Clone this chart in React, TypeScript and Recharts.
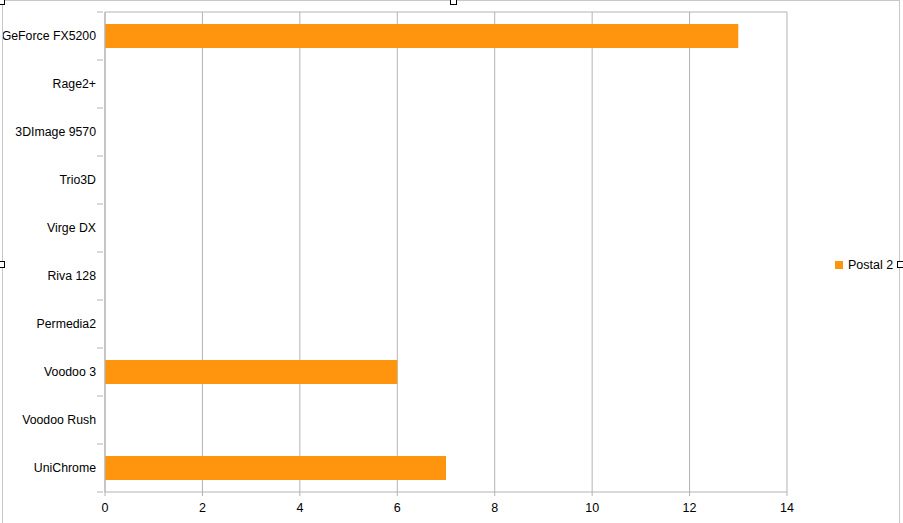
import React from "react";
import { BarChart, Bar, XAxis, YAxis, CartesianGrid } from "recharts";

// Graphics cards and their "Postal 2" results
const cards = [
  "GeForce FX5200",
  "Rage2+",
  "3DImage 9570",
  "Trio3D",
  "Virge DX",
  "Riva 128",
  "Permedia2",
  "Voodoo 3",
  "Voodoo Rush",
  "UniChrome",
];
const postal2 = [13, 0, 0, 0, 0, 0, 0, 6, 0, 7];
const xTicks = [0, 2, 4, 6, 8, 10, 12, 14];

const seriesName = "Postal 2";
const data = cards.map((name, i) => ({ name, value: postal2[i] }));

const FONT = "'Liberation Sans', Arial, sans-serif";
const GRID = "#b3b3b3";
const ORANGE = "#ff950e";

const CategoryTick = (props: any) => {
  const { x, y, payload, index } = props;
  const half = 24;
  return (
    <g>
      <line x1={x} x2={x + 6} y1={y - half} y2={y - half} stroke={GRID} />
      {index === cards.length - 1 && (
        <line x1={x} x2={x + 6} y1={y + half} y2={y + half} stroke={GRID} />
      )}
      <text
        x={x - 1}
        y={y}
        dy="0.35em"
        textAnchor="end"
        fill="#000"
        fontSize={12.3}
        fontFamily={FONT}
      >
        {payload.value}
      </text>
    </g>
  );
};

const Handle = ({ x, y }: { x: number; y: number }) => (
  <rect x={x} y={y} width={6} height={6} fill="#fff" stroke="#000" strokeWidth={1} />
);

export default function App() {
  return (
    <div style={{ position: "absolute", left: 0, top: 0, width: 903, height: 523, background: "#fff" }}>
      <BarChart
        width={903}
        height={523}
        data={data}
        layout="vertical"
        margin={{ top: 12, right: 116, bottom: 0, left: 0 }}
        barCategoryGap="25%"
      >
        <CartesianGrid
          stroke={GRID}
          horizontalCoordinatesGenerator={({ offset }: any) => [offset.top]}
        />
        <XAxis
          type="number"
          domain={[0, 14]}
          ticks={xTicks}
          interval={0}
          height={31}
          tickSize={4}
          tickMargin={7}
          stroke={GRID}
          tick={{ fill: "#000", fontSize: 12.5, fontFamily: FONT }}
        />
        <YAxis
          type="category"
          dataKey="name"
          width={105}
          stroke={GRID}
          tickLine={false}
          tick={<CategoryTick />}
          interval={0}
        />
        <Bar dataKey="value" name={seriesName} fill={ORANGE} isAnimationActive={false} />
      </BarChart>
      <div
        style={{
          position: "absolute",
          left: 835,
          top: 257,
          display: "flex",
          alignItems: "center",
          fontFamily: FONT,
          fontSize: 12.5,
          color: "#000",
          lineHeight: "16px",
        }}
      >
        <span
          style={{ width: 8, height: 8, background: ORANGE, display: "inline-block", marginRight: 5 }}
        />
        <span>{seriesName}</span>
      </div>
      <svg
        width={903}
        height={523}
        style={{ position: "absolute", left: 0, top: 0, pointerEvents: "none" }}
      >
        <rect x={2.5} y={0.5} width={897} height={530} fill="none" stroke="#c8c8c8" />
        <Handle x={-1.5} y={-1.5} />
        <Handle x={450.5} y={-1.5} />
        <Handle x={-1.5} y={261.5} />
        <Handle x={897.5} y={261.5} />
      </svg>
    </div>
  );
}
